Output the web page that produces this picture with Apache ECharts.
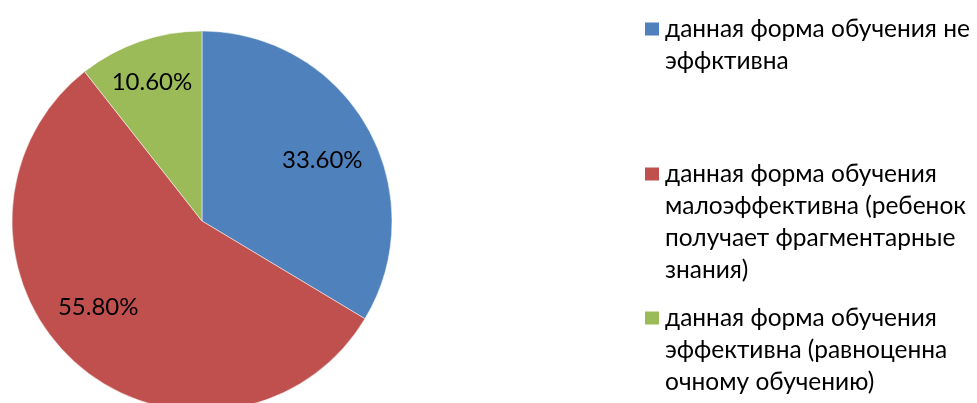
<!DOCTYPE html>
<html>
<head>
<meta charset="utf-8">
<script src="https://cdn.jsdelivr.net/npm/echarts@6/dist/echarts.min.js"></script>
<style>
  html, body { margin: 0; padding: 0; background: #fff; }
  #J_pieChart { width: 977px; height: 403px; }
</style>
</head>
<body>
<div id="J_pieChart"></div>
<script>
var categories = [
    'данная форма обучения не\nэффктивна',
    'данная форма обучения\nмалоэффективна (ребенок\nполучает фрагментарные\nзнания)',
    'данная форма обучения\nэффективна (равноценна\nочному обучению)'
];
var shares = [33.6, 55.8, 10.6];
var colors = ['#4F81BD', '#C0504D', '#9BBB59'];
// label nudges from the default inside spot, Excel "best fit" look
var labelOffsets = [[35, -12], [-39, 13], [-18, -46]];
// y of the first text line of each legend entry
var legendFirstLine = [29, 174, 318];

(function(){
    var myChart = echarts.init(document.getElementById('J_pieChart'));
    var fontFamily = 'Lato, "Open Sans", sans-serif';
    var lineH = 32;

    var legends = categories.map(function(name, i){
        var lines = name.split('\n').length;
        // blank lines in front keep the square level with the first line
        var pad = new Array(lines).join('\n');
        return {
            orient: 'vertical',
            left: 643,
            top: legendFirstLine[i] - (lines - 1) * lineH - lineH / 2,
            padding: 0,
            itemWidth: 16,
            itemHeight: 15,
            icon: 'rect',
            selectedMode: false,
            data: [name],
            formatter: function(n){ return pad + n; },
            textStyle: {
                color: '#000',
                fontFamily: fontFamily,
                fontSize: 24.5,
                lineHeight: lineH
            }
        };
    });

    var option = {
        animation: false,
        color: colors,
        legend: legends,
        series: [
            {
                type: 'pie',
                center: [202, 221],
                radius: 190,
                startAngle: 90,
                clockwise: true,
                silent: true,
                itemStyle: {
                    borderColor: '#fff',
                    borderWidth: 0.5
                },
                label: {
                    show: true,
                    position: 'inside',
                    color: '#000',
                    fontFamily: fontFamily,
                    fontSize: 24,
                    formatter: function(p){ return p.value.toFixed(2) + '%'; }
                },
                labelLine: { show: false },
                data: categories.map(function(name, i){
                    return {
                        name: name,
                        value: shares[i],
                        label: { offset: labelOffsets[i] }
                    };
                })
            }
        ]
    };

    myChart.setOption(option);
})();
</script>
</body>
</html>
